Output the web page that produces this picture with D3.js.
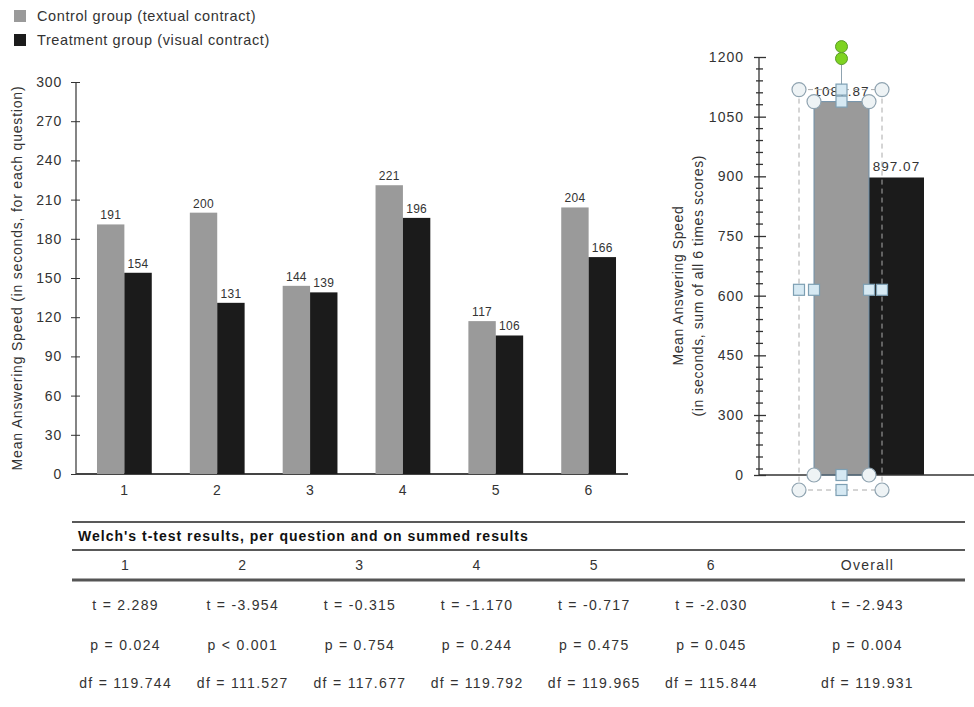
<!DOCTYPE html>
<html>
<head>
<meta charset="utf-8">
<script src="https://cdn.jsdelivr.net/npm/d3@7"></script>
<style>
  html, body { margin: 0; padding: 0; background: #fff; }
  svg { display: block; font-family: "Liberation Sans", Arial, sans-serif; }
</style>
</head>
<body>
<svg id="chart" width="974" height="707"></svg>
<script>
// Mean answering speed per question, two groups
const questions = ["1", "2", "3", "4", "5", "6"];
const groups = ["Control group (textual contract)", "Treatment group (visual contract)"];
const controlMeans = [191, 200, 144, 221, 117, 204];
const treatmentMeans = [154, 131, 139, 196, 106, 166];
const questionTicks = [0, 30, 60, 90, 120, 150, 180, 210, 240, 270, 300];

// Summed scores over all six questions
const summedValues = [1087.87, 897.07];
const summedLabels = ["1087.87", "897.07"];
const summedTicks = [0, 300, 450, 600, 750, 900, 1050, 1200];

// Welch's t-test table
const tableColumns = ["1", "2", "3", "4", "5", "6", "Overall"];
const tValues = ["2.289", "-3.954", "-0.315", "-1.170", "-0.717", "-2.030", "-2.943"];
const pRelations = ["=", "<", "=", "=", "=", "=", "="];
const pValues = ["0.024", "0.001", "0.754", "0.244", "0.475", "0.045", "0.004"];
const dfValues = ["119.744", "111.527", "117.677", "119.792", "119.965", "115.844", "119.931"];

const colors = ["#9a9a9a", "#1b1b1b"];
const textColor = "#333";
const fontFamily = "Liberation Sans, Arial, sans-serif";

const svg = d3.select("#chart");

// shared text styling: size and letter spacing
function textStyle(sel, size, spacing) {
  sel.attr("font-size", size).attr("letter-spacing", spacing)
    .attr("fill", textColor).attr("font-family", fontFamily);
}

// ---------- legend ----------
const legend = svg.append("g").attr("transform", "translate(14,10)");
groups.forEach((g, i) => {
  const row = legend.append("g").attr("transform", `translate(0,${i * 24})`);
  row.append("rect").attr("width", 12).attr("height", 12).attr("fill", colors[i]);
  row.append("text").attr("x", 23).attr("y", 6).attr("dy", "0.35em")
    .call(textStyle, 14.5, 0.6).text(g);
});

// ---------- per-question chart ----------
const y = d3.scaleLinear().domain([0, 300]).range([474, 82]);
const x = d3.scaleBand().domain(questions).range([76, 637])
  .paddingInner(0.41).paddingOuter(0.226);
const xSub = d3.scaleBand().domain([0, 1]).range([0, x.bandwidth()]);

const left = svg.append("g");

const yAxis = left.append("g").attr("transform", "translate(76,0)")
  .call(d3.axisLeft(y).tickValues(questionTicks).tickSize(5).tickPadding(9));
yAxis.select(".domain").remove();
yAxis.selectAll(".tick line").attr("x2", 4).attr("x1", -5).attr("stroke", "#333");
yAxis.selectAll(".tick text").call(textStyle, 14, 0.8);
yAxis.append("line").attr("x1", 0).attr("x2", 0)
  .attr("y1", y(300)).attr("y2", y(0)).attr("stroke", "#333").attr("stroke-width", 1.2);

const xAxis = left.append("g").attr("transform", `translate(0,${y(0)})`)
  .call(d3.axisBottom(x).tickSize(0).tickPadding(11));
xAxis.select(".domain").attr("d", `M76,0H628`).attr("stroke", "#444").attr("stroke-width", 2);
xAxis.selectAll(".tick text").call(textStyle, 14, 0.5);

const series = [controlMeans, treatmentMeans];
series.forEach((vals, s) => {
  const g = left.append("g");
  g.selectAll("rect").data(vals).join("rect")
    .attr("x", (d, i) => x(questions[i]) + xSub(s))
    .attr("width", xSub.bandwidth())
    .attr("y", d => y(d))
    .attr("height", d => y(0) - y(d))
    .attr("fill", colors[s]);
  g.selectAll("text").data(vals).join("text")
    .attr("x", (d, i) => x(questions[i]) + xSub(s) + xSub.bandwidth() / 2)
    .attr("y", d => y(d) - 5)
    .attr("text-anchor", "middle").call(textStyle, 12, 0.3)
    .text(d => d);
});

left.append("text")
  .attr("transform", `translate(22,${(y(0) + y(300)) / 2}) rotate(-90)`)
  .attr("text-anchor", "middle").call(textStyle, 14, 0.8)
  .text("Mean Answering Speed (in seconds, for each question)");

// ---------- summed chart ----------
// the axis is compressed between 0 and 300
const y2 = d3.scaleLinear().domain([0, 300, 1200]).range([475, 415, 57]);
const x2 = d3.scaleBand().domain([0, 1]).range([814, 924]);

const right = svg.append("g");

const minorTicks = d3.range(30, 300, 60).concat(d3.range(300, 1200, 30))
  .filter(v => !summedTicks.includes(v));
right.append("g").selectAll("line").data(minorTicks).join("line")
  .attr("x1", 756).attr("x2", 763)
  .attr("y1", d => y2(d)).attr("y2", d => y2(d))
  .attr("stroke", "#333").attr("stroke-width", 1.3);

const y2Axis = right.append("g").attr("transform", "translate(759,0)")
  .call(d3.axisLeft(y2).tickValues(summedTicks).tickFormat(d3.format("d"))
    .tickSize(5).tickPadding(10));
y2Axis.select(".domain").remove();
y2Axis.selectAll(".tick line").attr("x1", -5).attr("x2", 7).attr("stroke", "#333").attr("stroke-width", 1.3);
y2Axis.selectAll(".tick text").call(textStyle, 14, 1.0);
y2Axis.append("line").attr("x1", 0).attr("x2", 0)
  .attr("y1", y2(1200)).attr("y2", y2(0)).attr("stroke", "#333").attr("stroke-width", 1.3);

right.selectAll("rect.sum").data(summedValues).join("rect").attr("class", "sum")
  .attr("x", (d, i) => x2(i)).attr("width", x2.bandwidth())
  .attr("y", d => y2(d)).attr("height", d => y2(0) - y2(d))
  .attr("fill", (d, i) => colors[i]);
right.selectAll("text.sum").data(summedValues).join("text").attr("class", "sum")
  .attr("x", (d, i) => x2(i) + x2.bandwidth() / 2)
  .attr("y", d => y2(d) - 6)
  .attr("text-anchor", "middle").call(textStyle, 13.5, 1.0)
  .text((d, i) => summedLabels[i]);

right.append("line").attr("x1", 759).attr("x2", 974)
  .attr("y1", y2(0)).attr("y2", y2(0)).attr("stroke", "#333").attr("stroke-width", 1.5);

const titleLines = ["Mean Answering Speed", "(in seconds, sum of all 6 times scores)"];
const yTitle = right.append("text")
  .attr("transform", `translate(683,${y2(600) - 10}) rotate(-90)`)
  .attr("text-anchor", "middle").call(textStyle, 14, 0.6);
titleLines.forEach((t, i) => yTitle.append("tspan").attr("x", 0).attr("dy", i ? 20 : 0).text(t));

// selection frame with resize handles around the control bar
(function selectionFrame() {
  const bx0 = x2(0), bx1 = x2(0) + x2.bandwidth();
  const by0 = y2(summedValues[0]), by1 = y2(0);
  const ox0 = bx0 - 15, ox1 = bx1 + 13, oy0 = by0 - 12, oy1 = by1 + 15;
  const midX = (bx0 + bx1) / 2, midY = (oy0 + oy1) / 2;
  const sel = right.append("g");
  const frameStroke = "#8fa3b0";

  sel.append("rect").attr("x", bx0).attr("y", by0)
    .attr("width", bx1 - bx0).attr("height", by1 - by0)
    .attr("fill", "none").attr("stroke", "#6f8fa8").attr("stroke-width", 1);
  [ox0, ox1].forEach(xx => sel.append("line")
    .attr("x1", xx).attr("x2", xx).attr("y1", oy0).attr("y2", oy1)
    .attr("stroke", "#aaa").attr("stroke-dasharray", "5,4"));
  [oy0, oy1].forEach(yy => sel.append("line")
    .attr("x1", ox0).attr("x2", ox1).attr("y1", yy).attr("y2", yy)
    .attr("stroke", "#aaa").attr("stroke-dasharray", "5,4"));

  // rotation handle
  sel.append("line").attr("x1", midX).attr("x2", midX).attr("y1", oy0 - 30).attr("y2", oy0)
    .attr("stroke", frameStroke);
  [oy0 - 43, oy0 - 31].forEach(cy => sel.append("circle")
    .attr("cx", midX).attr("cy", cy).attr("r", 6)
    .attr("fill", "#7ed321").attr("stroke", "#5a9a2a"));

  const corners = [[ox0, oy0], [ox1, oy0], [bx0, by0], [bx1, by0],
                   [bx0, by1], [bx1, by1], [ox0, oy1], [ox1, oy1]];
  sel.selectAll("circle.h").data(corners).join("circle").attr("class", "h")
    .attr("cx", d => d[0]).attr("cy", d => d[1]).attr("r", 7)
    .attr("fill", "#eef3f5").attr("stroke", frameStroke).attr("stroke-width", 1.2);

  const squares = [[midX, oy0], [midX, by0], [midX, by1], [midX, oy1],
                   [ox0, midY], [bx0, midY], [bx1, midY], [ox1, midY]];
  sel.selectAll("rect.h").data(squares).join("rect").attr("class", "h")
    .attr("x", d => d[0] - 5.5).attr("y", d => d[1] - 5.5)
    .attr("width", 11).attr("height", 11)
    .attr("fill", "#d6e9f3").attr("stroke", "#7d9fb3").attr("stroke-width", 1.2);
})();

// ---------- t-test table ----------
const table = svg.append("g");
const colX = d3.scaleBand().domain(tableColumns.slice(0, 6)).range([67, 770]);
const cx = c => c === "Overall" ? (770 + 965) / 2 : colX(c) + colX.bandwidth() / 2;

table.append("line").attr("x1", 72).attr("x2", 965).attr("y1", 522).attr("y2", 522)
  .attr("stroke", "#222").attr("stroke-width", 1.5);
table.append("line").attr("x1", 72).attr("x2", 965).attr("y1", 550).attr("y2", 550)
  .attr("stroke", "#222").attr("stroke-width", 1.5);
table.append("line").attr("x1", 72).attr("x2", 965).attr("y1", 580).attr("y2", 580)
  .attr("stroke", "#555").attr("stroke-width", 3);

table.append("text").attr("x", 78).attr("y", 536).attr("dy", "0.35em")
  .call(textStyle, 14, 1.0).attr("font-weight", "bold").attr("fill", "#111")
  .text("Welch's t-test results, per question and on summed results");

const rows = [
  { y: 565, vals: tableColumns },
  { y: 605, vals: tValues.map(v => `t = ${v}`) },
  { y: 645, vals: pValues.map((v, i) => `p ${pRelations[i]} ${v}`) },
  { y: 683, vals: dfValues.map(v => `df = ${v}`) }
];
rows.forEach(r => {
  table.append("g").selectAll("text").data(r.vals).join("text")
    .attr("x", (d, i) => cx(tableColumns[i]))
    .attr("y", r.y).attr("dy", "0.35em")
    .attr("text-anchor", "middle").call(textStyle, 14, 1.3)
    .text(d => d);
});
</script>
</body>
</html>
